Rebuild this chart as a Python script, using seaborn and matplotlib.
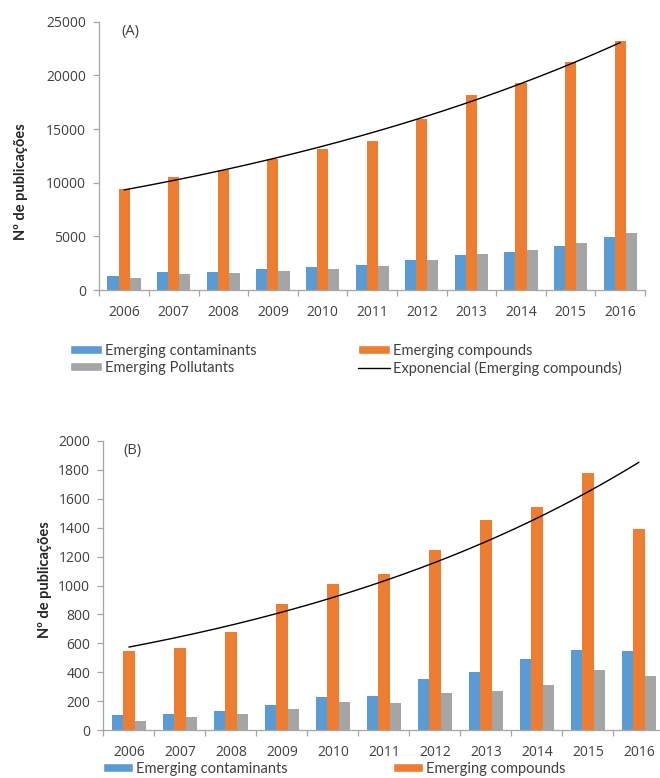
import numpy as np
import pandas as pd
import matplotlib
matplotlib.use("Agg")
import matplotlib.pyplot as plt
import seaborn as sns
from matplotlib.patches import Patch
from matplotlib.lines import Line2D

# ---- data -------------------------------------------------------------
years = [2006, 2007, 2008, 2009, 2010, 2011, 2012, 2013, 2014, 2015, 2016]
series_names = ["Emerging contaminants", "Emerging compounds", "Emerging Pollutants"]
series_colors = ["#5B9BD5", "#ED7D31", "#A5A5A5"]
trend_label = "Exponencial (Emerging compounds)"

# (A) publications
a_contaminants = [1350, 1700, 1700, 2000, 2150, 2350, 2800, 3250, 3550, 4100, 4900]
a_compounds = [9400, 10500, 11200, 12200, 13100, 13900, 15900, 18200, 19300, 21200, 23200]
a_pollutants = [1150, 1500, 1600, 1800, 1930, 2250, 2800, 3350, 3700, 4350, 5350]

# (B) publications
b_contaminants = [106, 113, 129, 172, 230, 236, 352, 400, 492, 556, 549]
b_compounds = [550, 570, 680, 870, 1010, 1080, 1246, 1453, 1540, 1782, 1393]
b_pollutants = [64, 89, 111, 148, 193, 186, 259, 267, 313, 418, 377]

a_yticks = [0, 5000, 10000, 15000, 20000, 25000]
b_yticks = [0, 200, 400, 600, 800, 1000, 1200, 1400, 1600, 1800, 2000]
ylabel = "Nº de publicações"


def long_frame(contaminants, compounds, pollutants):
    values = contaminants + compounds + pollutants
    names = [n for n in series_names for _ in years]
    return pd.DataFrame({"Ano": years * 3, "Publicações": values, "Série": names})


sns.set_style("ticks")
TICK_FONT = "Open Sans"
LEG_FONT = "Lato"
AXIS_GREY = "#A6A6A6"
TEXT_GREY = "#404040"

W, H = 660, 778
fig = plt.figure(figsize=(W / 100, H / 100), dpi=100)


def px_axes(x0, x1, ytop, ybot):
    return fig.add_axes([x0 / W, 1 - ybot / H, (x1 - x0) / W, (ybot - ytop) / H])


def draw_panel(ax, df, compounds, yticks):
    sns.barplot(data=df, x="Ano", y="Publicações", hue="Série",
                hue_order=series_names, palette=series_colors,
                width=0.67, gap=0, saturation=1, errorbar=None,
                linewidth=0, legend=False, ax=ax)
    # exponential trendline of the compounds series
    xs = np.arange(len(years))
    k, b = np.polyfit(xs, np.log(compounds), 1)
    xx = np.linspace(0, len(years) - 1, 300)
    ax.plot(xx, np.exp(b + k * xx), color="black", lw=1.0)

    ax.set_xlim(-0.5, len(years) - 0.5)
    ax.set_ylim(yticks[0], yticks[-1])
    ax.set_yticks(yticks)
    ax.set_yticklabels([str(t) for t in yticks], fontfamily=TICK_FONT)
    ax.set_xticks(xs)
    ax.set_xticklabels([str(y) for y in years], fontfamily=TICK_FONT)
    ax.set_xticks(np.arange(-0.5, len(years), 1), minor=True)
    ax.set_xlabel("")
    ax.set_ylabel("")
    sns.despine(ax=ax)
    for s in ("left", "bottom"):
        ax.spines[s].set_color(AXIS_GREY)
        ax.spines[s].set_linewidth(0.9)
    ax.tick_params(axis="x", which="major", length=0, pad=11,
                   labelsize=10, labelcolor=TEXT_GREY)
    ax.tick_params(axis="x", which="minor", length=4, width=0.9,
                   color=AXIS_GREY, direction="out", bottom=True)
    ax.tick_params(axis="y", which="major", length=4.5, width=0.9,
                   color=AXIS_GREY, direction="out", pad=5,
                   labelsize=10, labelcolor=TEXT_GREY, left=True)


def legend_entry(handle, label, x_px, y_px, hlen):
    fig.legend(handles=[handle], labels=[label], loc="center left",
               bbox_to_anchor=(x_px / W, 1 - y_px / H),
               frameon=False, borderpad=0, borderaxespad=0,
               handlelength=hlen, handleheight=0.55, handletextpad=0.22,
               prop={"family": LEG_FONT, "size": 10.5}, labelcolor=TEXT_GREY)


# ---- panel A ----------------------------------------------------------
axA = px_axes(99.3, 645.0, 21.7, 290.0)
draw_panel(axA, long_frame(a_contaminants, a_compounds, a_pollutants), a_compounds, a_yticks)
fig.text(121.7 / W, 1 - 31 / H, "(A)", ha="left", va="center",
         fontfamily=TICK_FONT, fontsize=10.5, color=TEXT_GREY)
fig.text(21.5 / W, 1 - 182 / H, ylabel, rotation=90, ha="center", va="center",
         fontfamily=LEG_FONT, fontweight="bold", fontsize=10.5, color="#262626")

legend_entry(Patch(facecolor=series_colors[0]), series_names[0], 70, 351, 2.2)
legend_entry(Patch(facecolor=series_colors[2]), series_names[2], 70, 368, 2.2)
legend_entry(Patch(facecolor=series_colors[1]), series_names[1], 358, 351, 2.2)
legend_entry(Line2D([], [], color="black", lw=1.0), trend_label, 358, 368, 2.2)

# ---- panel B ----------------------------------------------------------
axB = px_axes(103.4, 664.4, 441.0, 730.0)
draw_panel(axB, long_frame(b_contaminants, b_compounds, b_pollutants), b_compounds, b_yticks)
fig.text(123.3 / W, 1 - 450.8 / H, "(B)", ha="left", va="center",
         fontfamily=TICK_FONT, fontsize=10.5, color=TEXT_GREY)
fig.text(45 / W, 1 - 580 / H, ylabel, rotation=90, ha="center", va="center",
         fontfamily=LEG_FONT, fontweight="bold", fontsize=10.5, color="#262626")

legend_entry(Patch(facecolor=series_colors[0]), series_names[0], 103, 768.5, 2.05)
legend_entry(Patch(facecolor=series_colors[1]), series_names[1], 393, 768.5, 2.05)

fig.savefig("out.png", dpi=100)
